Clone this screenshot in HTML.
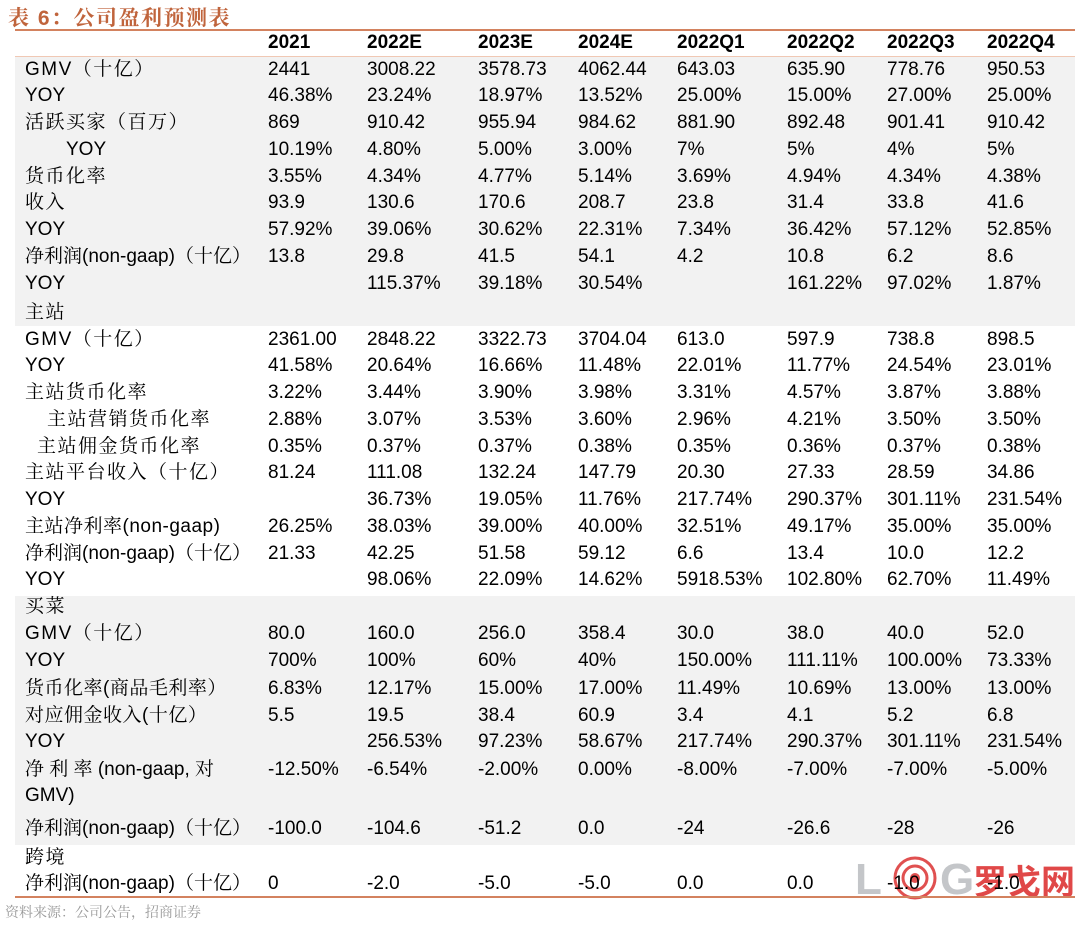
<!DOCTYPE html>
<html><head><meta charset="utf-8">
<style>
body{margin:0;width:1080px;height:932px;background:#fff;position:relative;overflow:hidden;font-family:"Liberation Sans","Noto Serif CJK SC",sans-serif;color:#000}
.t{position:absolute;left:8px;top:2px;font-size:21px;font-weight:bold;color:#c0643c;font-family:"Liberation Sans","Noto Serif CJK SC",serif;letter-spacing:1.5px}
.ln{position:absolute;left:15px;width:1060px;height:2px;background:#d3825f}
.sh{position:absolute;left:15px;width:1060px;background:#f2f2f2}
.r{position:absolute;left:0;width:1080px;height:24px;font-size:19px;line-height:24px}
.r span{position:absolute;white-space:nowrap}
.l{left:25px;font-family:"Liberation Sans","Noto Serif CJK SC",serif;letter-spacing:1.5px}
.y{letter-spacing:0}
.a{left:268px}.b{left:367px}.c{left:478px}.d{left:578px}.e{left:677px}.f{left:787px}.g{left:887px}.h{left:987px}
.hd span{font-weight:bold}
.src{position:absolute;left:5px;top:902px;font-size:14px;color:#999;font-family:"Noto Serif CJK SC",serif}
.wm{position:absolute;left:855px;top:852px;width:220px;height:50px}
</style></head><body>
<div class="t">表 6：公司盈利预测表</div>
<div class="ln" style="top:29px"></div>
<div class="sh" style="top:56px;height:270px"></div>
<div class="sh" style="top:596px;height:249px"></div>
<div class="ln" style="top:56px;height:1px;background:#f0c8b4"></div>
<svg class="wm" viewBox="0 0 220 50">
<text x="0" y="42" font-family="Liberation Sans" font-weight="bold" font-size="44" fill="#c4c6c9">L</text>
<circle cx="60" cy="26" r="20" fill="none" stroke="#e05050" stroke-width="3"/>
<circle cx="60" cy="26" r="12" fill="none" stroke="#e05050" stroke-width="3"/>
<circle cx="60" cy="26" r="5" fill="#e05050"/>
<text x="85" y="42" font-family="Liberation Sans" font-weight="bold" font-size="44" fill="#c4c6c9">G</text>
<text x="118" y="42" font-family="Noto Sans CJK SC" font-weight="bold" font-size="34" fill="#e04848">罗戈网</text>
</svg>
<div class="ln" style="top:896px"></div>

<div class="r hd" style="top:31px"><span class="a">2021</span><span class="b">2022E</span><span class="c">2023E</span><span class="d">2024E</span><span class="e">2022Q1</span><span class="f">2022Q2</span><span class="g">2022Q3</span><span class="h">2022Q4</span></div>
<div class="r" style="top:58px"><span class="l">GMV（十亿）</span><span class="a">2441</span><span class="b">3008.22</span><span class="c">3578.73</span><span class="d">4062.44</span><span class="e">643.03</span><span class="f">635.90</span><span class="g">778.76</span><span class="h">950.53</span></div>
<div class="r" style="top:84px"><span class="l y">YOY</span><span class="a">46.38%</span><span class="b">23.24%</span><span class="c">18.97%</span><span class="d">13.52%</span><span class="e">25.00%</span><span class="f">15.00%</span><span class="g">27.00%</span><span class="h">25.00%</span></div>
<div class="r" style="top:111px"><span class="l">活跃买家（百万）</span><span class="a">869</span><span class="b">910.42</span><span class="c">955.94</span><span class="d">984.62</span><span class="e">881.90</span><span class="f">892.48</span><span class="g">901.41</span><span class="h">910.42</span></div>
<div class="r" style="top:138px"><span class="l y" style="left:66px">YOY</span><span class="a">10.19%</span><span class="b">4.80%</span><span class="c">5.00%</span><span class="d">3.00%</span><span class="e">7%</span><span class="f">5%</span><span class="g">4%</span><span class="h">5%</span></div>
<div class="r" style="top:165px"><span class="l">货币化率</span><span class="a">3.55%</span><span class="b">4.34%</span><span class="c">4.77%</span><span class="d">5.14%</span><span class="e">3.69%</span><span class="f">4.94%</span><span class="g">4.34%</span><span class="h">4.38%</span></div>
<div class="r" style="top:191px"><span class="l">收入</span><span class="a">93.9</span><span class="b">130.6</span><span class="c">170.6</span><span class="d">208.7</span><span class="e">23.8</span><span class="f">31.4</span><span class="g">33.8</span><span class="h">41.6</span></div>
<div class="r" style="top:218px"><span class="l y">YOY</span><span class="a">57.92%</span><span class="b">39.06%</span><span class="c">30.62%</span><span class="d">22.31%</span><span class="e">7.34%</span><span class="f">36.42%</span><span class="g">57.12%</span><span class="h">52.85%</span></div>
<div class="r" style="top:245px"><span class="l" style="letter-spacing:0">净利润(non-gaap)（十亿）</span><span class="a">13.8</span><span class="b">29.8</span><span class="c">41.5</span><span class="d">54.1</span><span class="e">4.2</span><span class="f">10.8</span><span class="g">6.2</span><span class="h">8.6</span></div>
<div class="r" style="top:272px"><span class="l y">YOY</span><span class="b">115.37%</span><span class="c">39.18%</span><span class="d">30.54%</span><span class="f">161.22%</span><span class="g">97.02%</span><span class="h">1.87%</span></div>
<div class="r" style="top:301px"><span class="l">主站</span></div>
<div class="r" style="top:328px"><span class="l">GMV（十亿）</span><span class="a">2361.00</span><span class="b">2848.22</span><span class="c">3322.73</span><span class="d">3704.04</span><span class="e">613.0</span><span class="f">597.9</span><span class="g">738.8</span><span class="h">898.5</span></div>
<div class="r" style="top:354px"><span class="l y">YOY</span><span class="a">41.58%</span><span class="b">20.64%</span><span class="c">16.66%</span><span class="d">11.48%</span><span class="e">22.01%</span><span class="f">11.77%</span><span class="g">24.54%</span><span class="h">23.01%</span></div>
<div class="r" style="top:381px"><span class="l">主站货币化率</span><span class="a">3.22%</span><span class="b">3.44%</span><span class="c">3.90%</span><span class="d">3.98%</span><span class="e">3.31%</span><span class="f">4.57%</span><span class="g">3.87%</span><span class="h">3.88%</span></div>
<div class="r" style="top:408px"><span class="l" style="left:47px">主站营销货币化率</span><span class="a">2.88%</span><span class="b">3.07%</span><span class="c">3.53%</span><span class="d">3.60%</span><span class="e">2.96%</span><span class="f">4.21%</span><span class="g">3.50%</span><span class="h">3.50%</span></div>
<div class="r" style="top:435px"><span class="l" style="left:37px">主站佣金货币化率</span><span class="a">0.35%</span><span class="b">0.37%</span><span class="c">0.37%</span><span class="d">0.38%</span><span class="e">0.35%</span><span class="f">0.36%</span><span class="g">0.37%</span><span class="h">0.38%</span></div>
<div class="r" style="top:461px"><span class="l">主站平台收入（十亿）</span><span class="a">81.24</span><span class="b">111.08</span><span class="c">132.24</span><span class="d">147.79</span><span class="e">20.30</span><span class="f">27.33</span><span class="g">28.59</span><span class="h">34.86</span></div>
<div class="r" style="top:488px"><span class="l y">YOY</span><span class="b">36.73%</span><span class="c">19.05%</span><span class="d">11.76%</span><span class="e">217.74%</span><span class="f">290.37%</span><span class="g">301.11%</span><span class="h">231.54%</span></div>
<div class="r" style="top:515px"><span class="l" style="letter-spacing:0.5px">主站净利率(non-gaap)</span><span class="a">26.25%</span><span class="b">38.03%</span><span class="c">39.00%</span><span class="d">40.00%</span><span class="e">32.51%</span><span class="f">49.17%</span><span class="g">35.00%</span><span class="h">35.00%</span></div>
<div class="r" style="top:542px"><span class="l" style="letter-spacing:0">净利润(non-gaap)（十亿）</span><span class="a">21.33</span><span class="b">42.25</span><span class="c">51.58</span><span class="d">59.12</span><span class="e">6.6</span><span class="f">13.4</span><span class="g">10.0</span><span class="h">12.2</span></div>
<div class="r" style="top:568px"><span class="l y">YOY</span><span class="b">98.06%</span><span class="c">22.09%</span><span class="d">14.62%</span><span class="e">5918.53%</span><span class="f">102.80%</span><span class="g">62.70%</span><span class="h">11.49%</span></div>
<div class="r" style="top:595px"><span class="l">买菜</span></div>
<div class="r" style="top:622px"><span class="l">GMV（十亿）</span><span class="a">80.0</span><span class="b">160.0</span><span class="c">256.0</span><span class="d">358.4</span><span class="e">30.0</span><span class="f">38.0</span><span class="g">40.0</span><span class="h">52.0</span></div>
<div class="r" style="top:649px"><span class="l y">YOY</span><span class="a">700%</span><span class="b">100%</span><span class="c">60%</span><span class="d">40%</span><span class="e">150.00%</span><span class="f">111.11%</span><span class="g">100.00%</span><span class="h">73.33%</span></div>
<div class="r" style="top:677px"><span class="l" style="letter-spacing:0.5px">货币化率(商品毛利率）</span><span class="a">6.83%</span><span class="b">12.17%</span><span class="c">15.00%</span><span class="d">17.00%</span><span class="e">11.49%</span><span class="f">10.69%</span><span class="g">13.00%</span><span class="h">13.00%</span></div>
<div class="r" style="top:704px"><span class="l" style="letter-spacing:0.5px">对应佣金收入(十亿）</span><span class="a">5.5</span><span class="b">19.5</span><span class="c">38.4</span><span class="d">60.9</span><span class="e">3.4</span><span class="f">4.1</span><span class="g">5.2</span><span class="h">6.8</span></div>
<div class="r" style="top:730px"><span class="l y">YOY</span><span class="b">256.53%</span><span class="c">97.23%</span><span class="d">58.67%</span><span class="e">217.74%</span><span class="f">290.37%</span><span class="g">301.11%</span><span class="h">231.54%</span></div>
<div class="r" style="top:758px"><span class="l" style="letter-spacing:0">净 利 率 (non-gaap, 对</span><span class="a">-12.50%</span><span class="b">-6.54%</span><span class="c">-2.00%</span><span class="d">0.00%</span><span class="e">-8.00%</span><span class="f">-7.00%</span><span class="g">-7.00%</span><span class="h">-5.00%</span></div>
<div class="r" style="top:784px"><span class="l y">GMV)</span></div>
<div class="r" style="top:817px"><span class="l" style="letter-spacing:0">净利润(non-gaap)（十亿）</span><span class="a">-100.0</span><span class="b">-104.6</span><span class="c">-51.2</span><span class="d">0.0</span><span class="e">-24</span><span class="f">-26.6</span><span class="g">-28</span><span class="h">-26</span></div>
<div class="r" style="top:846px"><span class="l">跨境</span></div>
<div class="r" style="top:872px"><span class="l" style="letter-spacing:0">净利润(non-gaap)（十亿）</span><span class="a">0</span><span class="b">-2.0</span><span class="c">-5.0</span><span class="d">-5.0</span><span class="e">0.0</span><span class="f">0.0</span><span class="g">-1.0</span><span class="h">-1.0</span></div>
<div class="src">资料来源：公司公告，招商证券</div>
</body></html>
